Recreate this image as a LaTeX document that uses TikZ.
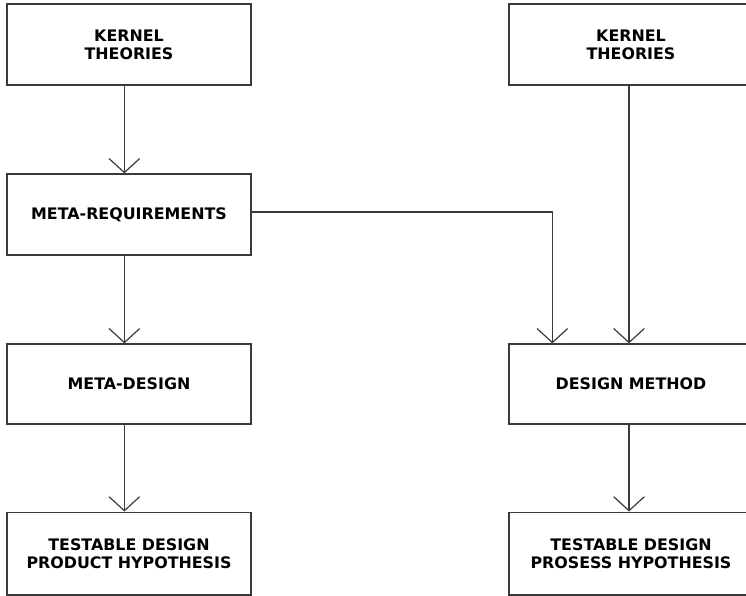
\documentclass[tikz,border=0pt]{standalone}
\usepackage{fontspec}
\setmainfont{DejaVu Sans}
\usetikzlibrary{arrows.meta}
\definecolor{linec}{HTML}{3A3A3A}
\begin{document}
\begin{tikzpicture}[x=0.75pt,y=-0.75pt,
  box/.style={draw=linec, line width=1pt, fill=white, minimum width=183pt, minimum height=60.75pt,
    inner sep=0pt, align=center, font=\fontsize{11.9pt}{13.5pt}\selectfont\bfseries},
  conn/.style={draw=linec, line width=0.9pt, -{Straight Barb[length=10.5pt,width=23pt,line width=0.9pt]}},
  plain/.style={draw=linec, line width=0.9pt}]
\useasboundingbox (0,0) rectangle (746,596);
\clip (0,0) rectangle (746,596);
\fill[white] (0,0) rectangle (746,596);
% left column
\node[box] (k1) at (129,44.5) {KERNEL\\THEORIES};
\node[box] (mr) at (129,214.5) {META-REQUIREMENTS};
\node[box, minimum height=60pt] (md) at (129,384) {META-DESIGN};
\node[box, minimum height=62pt] (tp) at (129,553.5) {TESTABLE DESIGN\\PRODUCT HYPOTHESIS};
% right column
\node[box] (k2) at (631,44.5) {KERNEL\\THEORIES};
\node[box, minimum height=60pt] (dm) at (631,384) {DESIGN METHOD};
\node[box, minimum height=62pt] (tq) at (631,553.5) {TESTABLE DESIGN\\PROSESS HYPOTHESIS};
% connectors
\draw[conn] ([xshift=-3.5pt]k1.south) -- ([xshift=-3.5pt]mr.north);
\draw[conn] ([xshift=-3.5pt]mr.south) -- ([xshift=-3.5pt]md.north);
\draw[conn] ([xshift=-3.5pt]md.south) -- ([xshift=-3.5pt]tp.north);
\draw[conn] ([xshift=-1.5pt]k2.south) -- ([xshift=-1.5pt]dm.north);
\draw[conn] ([xshift=-1.5pt]dm.south) -- ([xshift=-1.5pt]tq.north);
\coordinate (dmin) at ([xshift=33pt]dm.north west);
\coordinate (mrout) at ([yshift=1.9pt]mr.east);
\draw[conn] (mrout) -| (dmin);
\end{tikzpicture}
\end{document}
